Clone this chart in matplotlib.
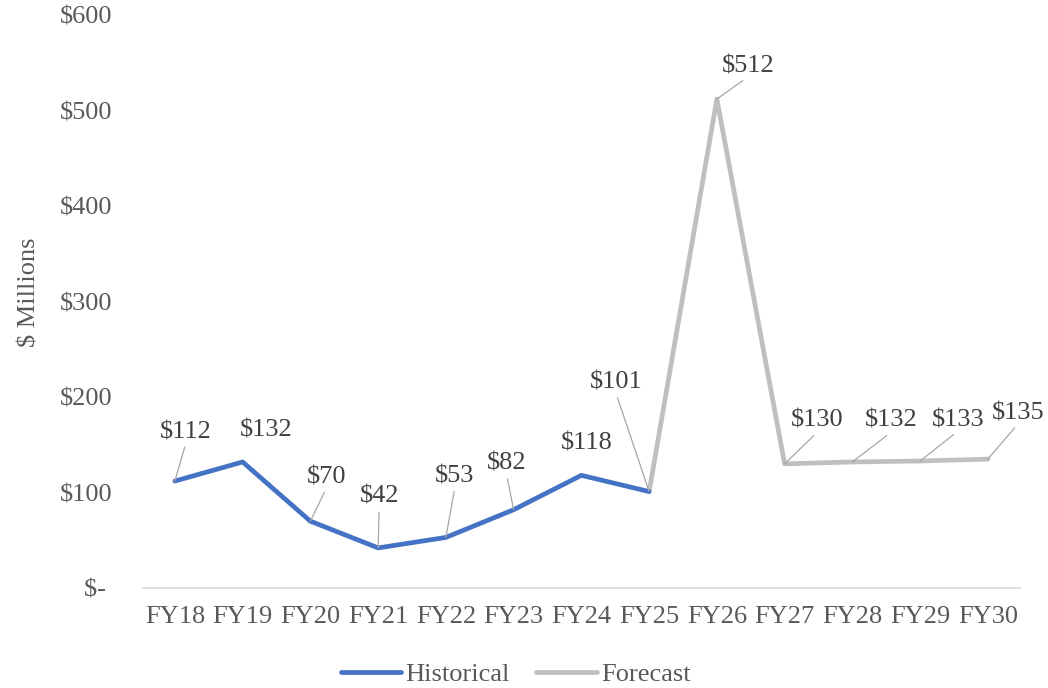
import matplotlib
matplotlib.use("Agg")
import matplotlib.pyplot as plt

plt.rcParams['font.family'] = ['Liberation Serif', 'DejaVu Serif']

years = ['FY18', 'FY19', 'FY20', 'FY21', 'FY22', 'FY23', 'FY24',
         'FY25', 'FY26', 'FY27', 'FY28', 'FY29', 'FY30']
historical = [112, 132, 70, 42, 53, 82, 118, 101]
forecast = [101, 512, 130, 132, 133, 135]
y_ticks = [0, 100, 200, 300, 400, 500, 600]

# where each value label sits relative to its point (pixels), and whether it gets a leader line
label_offsets = [(11, 49), (24, 31), (16, 44), (1, 51), (9, 61), (-7, 46), (5, 32),
                 (-33, 109), (31, 33), (33, 43), (39, 41), (38, 41), (30, 46)]
leaders = [True, False, True, True, True, True, False,
           True, True, True, True, True, True]

FS = 19

fig = plt.figure(figsize=(10.48, 6.88), dpi=100)
ax = fig.add_axes([0.1365, 0.1453, 0.8365, 0.8329])

x_hist = list(range(len(historical)))
x_fc = list(range(len(historical) - 1, len(historical) - 1 + len(forecast)))

ax.plot(x_hist, historical, color='#4472C4', lw=3.4, solid_capstyle='round',
        solid_joinstyle='round', label='Historical', zorder=3)
ax.plot(x_fc, forecast, color='#BFBFBF', lw=3.4, solid_capstyle='round',
        solid_joinstyle='round', label='Forecast', zorder=2)

values = historical[:-1] + forecast
for i, v in enumerate(values):
    dx, dy = label_offsets[i]
    arrow = None
    if leaders[i]:
        arrow = dict(arrowstyle='-', color='#A6A6A6', lw=0.9,
                     shrinkA=1, shrinkB=0, relpos=(0.5, 0.0))
    ax.annotate(f'${v}', xy=(i, v), xytext=(dx, dy), textcoords='offset pixels',
                ha='center', va='center', fontsize=FS, color='#404040',
                arrowprops=arrow, zorder=4)

ax.set_xlim(-0.47, 12.47)
ax.set_ylim(0, 600)
ax.set_xticks(range(len(years)))
ax.set_xticklabels(years)
ax.set_yticks(y_ticks)
ax.set_yticklabels([f'${t}' if t else '$- ' for t in y_ticks])
ax.tick_params(axis='both', length=0, labelsize=FS, labelcolor='#595959')
ax.tick_params(axis='x', pad=13)
ax.tick_params(axis='y', pad=22)
ax.set_ylabel('$ Millions', fontsize=FS, color='#595959', labelpad=14)
ax.yaxis.label.set_y(0.517)

for s in ['top', 'right', 'left']:
    ax.spines[s].set_visible(False)
ax.spines['bottom'].set_color('#D9D9D9')
ax.spines['bottom'].set_linewidth(1.2)

fig.legend(loc='lower center', bbox_to_anchor=(0.492, -0.032), ncol=2, frameon=False,
           fontsize=FS, handlelength=2.3, handletextpad=0.15, columnspacing=1.0,
           labelcolor='#595959')

fig.savefig('out.png', dpi=100)
